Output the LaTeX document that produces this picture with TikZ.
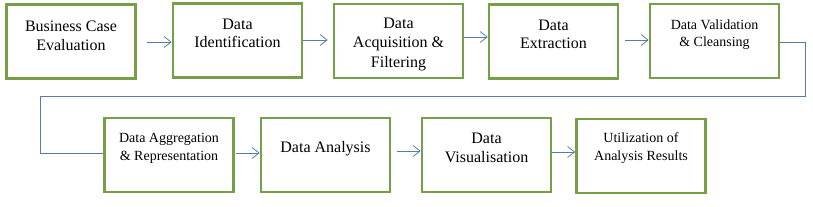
\documentclass[tikz,border=0pt]{standalone}
\usepackage{fontspec}
\setmainfont{Liberation Serif}
\usetikzlibrary{arrows.meta,calc}
\definecolor{boxgreen}{RGB}{118,160,72}
\definecolor{linkblue}{RGB}{88,124,168}
\tikzset{
  stepbox/.style={draw=boxgreen, line width=2.6pt, minimum width=129pt, minimum height=74pt, inner sep=0pt},
  big/.style={font=\fontsize{16}{18.6}\selectfont, align=center, inner sep=0pt, anchor=north},
  small/.style={font=\fontsize{14}{17.4}\selectfont, align=center, inner sep=0pt, anchor=north},
  arr/.style={draw=linkblue, line width=0.8pt, -{Straight Barb[length=7pt,width=11pt,line width=0.8pt]}},
  link/.style={draw=linkblue, line width=0.8pt}
}
\begin{document}
\begin{tikzpicture}[x=1pt,y=-1pt]
\useasboundingbox (0,0) rectangle (813,206);
% top row
\node[stepbox] (b1) at (71,41.5) {};
\node[stepbox] (b2) at (237.5,40.5) {};
\node[stepbox] (b3) at (398.5,41) {};
\node[stepbox] (b4) at (553.5,41.5) {};
\node[stepbox] (b5) at (714.5,41) {};
% bottom row
\node[stepbox] (b6) at (169,155) {};
\node[stepbox] (b7) at (325.5,155) {};
\node[stepbox] (b8) at (486.5,155) {};
\node[stepbox] (b9) at (641,156) {};
% texts
\node[big] (t1) at ([yshift=-17.5pt]b1.north) {Business Case\\Evaluation};
\node[big] (t2) at ([yshift=-16.4pt]b2.north) {Data\\Identification};
\node[big, font=\fontsize{16}{19.6}\selectfont] (t3) at ([yshift=-14.8pt]b3.north) {Data\\Acquisition \&\\Filtering};
\node[big] (t4) at ([yshift=-16.4pt]b4.north) {Data\\Extraction};
\node[small] (t5) at ([yshift=-16.4pt]b5.north) {Data Validation\\\& Cleansing};
\node[small] (t6) at ([yshift=-16.8pt]b6.north) {Data Aggregation\\\& Representation};
\node[big] (t7) at ([yshift=-24.4pt]b7.north) {Data Analysis};
\node[big] (t8) at ([yshift=-16.4pt]b8.north) {Data\\Visualisation};
\node[small, font=\fontsize{14}{18.2}\selectfont] (t9) at ([yshift=-14.8pt]b9.north) {Utilization of\\Analysis Results};
% arrows top row
\coordinate (s12) at ([xshift=10pt,yshift=-0.5pt]b1.east);
\draw[arr] (s12) -- (s12 -| b2.west);
\coordinate (s23) at ([yshift=0.5pt]b2.east);
\draw[arr, shorten >=5pt] (s23) -- (s23 -| b3.west);
\coordinate (s34) at ([yshift=4pt]b3.east);
\draw[arr] (s34) -- (s34 -| b4.west);
\coordinate (s45) at ([xshift=6pt,yshift=1.5pt]b4.east);
\draw[arr] (s45) -- (s45 -| b5.west);
% long connector
\coordinate (c1) at (805,42);
\coordinate (c2) at (805,96);
\coordinate (c3) at (40,96);
\coordinate (c4) at (40,153);
\draw[link] (b5.east |- c1) -- (c1) -- (c2) -- (c3) -- (c4) -- (c4 -| b6.west);
% arrows bottom row
\coordinate (s67) at ([xshift=1pt,yshift=2pt]b6.east);
\draw[arr] (s67) -- (s67 -| b7.west);
\coordinate (s78) at ([xshift=6pt,yshift=4pt]b7.east);
\draw[arr] (s78) -- (s78 -| b8.west);
\coordinate (s89) at ([yshift=3pt]b8.east);
\draw[arr] (s89) -- (s89 -| b9.west);
\end{tikzpicture}
\end{document}
